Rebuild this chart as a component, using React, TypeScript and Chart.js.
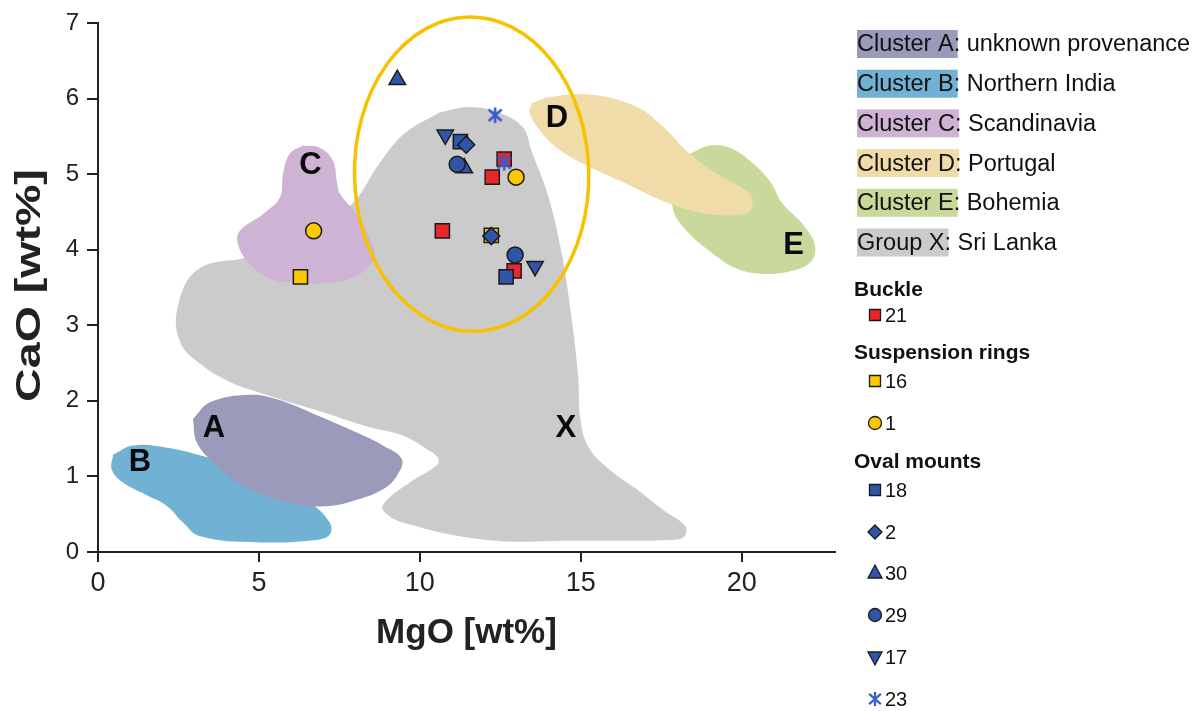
import React, { useEffect, useRef } from "react";
import { Chart, registerables } from "chart.js";

Chart.register(...registerables);

// ---------- data ----------
const xTickValues = [0, 5, 10, 15, 20];
const yTickValues = [0, 1, 2, 3, 4, 5, 6, 7];

const xTitle = "MgO [wt%]";
const yTitle = "CaO [wt%]";

const clusterNames = ["Cluster A", "Cluster B", "Cluster C", "Cluster D", "Cluster E", "Group X"];
const clusterPlaces = ["unknown provenance", "Northern India", "Scandinavia", "Portugal", "Bohemia", "Sri Lanka"];
const clusterColors = ["#9a9aba", "#71b2d4", "#cfb3d4", "#f0dca8", "#c9d99b", "#cbcbcb"];
const regionLetters = ["A", "B", "C", "D", "E", "X"];
const letterPositions = [
  [3.6, 1.63],
  [1.3, 1.18],
  [6.6, 5.12],
  [14.26, 5.74],
  [21.61, 4.05],
  [14.54, 1.64],
];

const regionA = [
  [2.95, 1.76], [3.48, 1.98], [4.72, 2.08], [5.56, 2.02], [6.8, 1.81], [8.04, 1.58], [8.85, 1.41],
  [9.44, 1.23], [9.29, 1.01], [8.85, 0.83], [8.04, 0.69], [7.2, 0.61], [6.18, 0.63], [5.12, 0.75],
  [4.32, 0.92], [3.57, 1.19], [3.07, 1.45],
];
const regionB = [
  [0.47, 1.29], [1.09, 1.41], [2.14, 1.38], [3.17, 1.28], [4.1, 1.15], [5.34, 0.88], [6.58, 0.65],
  [7.2, 0.39], [7.2, 0.23], [6.8, 0.16], [4.94, 0.13], [3.17, 0.21], [2.64, 0.39], [2.14, 0.61],
  [1.52, 0.75], [0.78, 0.92], [0.43, 1.09],
];
const regionC = [
  [6.37, 5.38], [6.89, 5.35], [7.3, 5.18], [7.42, 4.91], [7.52, 4.74], [8.04, 4.47], [8.45, 4.15],
  [8.6, 3.94], [8.35, 3.75], [7.83, 3.62], [7.11, 3.56], [6.18, 3.56], [5.34, 3.62], [4.72, 3.81],
  [4.35, 4.07], [4.41, 4.25], [5.12, 4.47], [5.65, 4.69], [5.75, 5.01], [5.96, 5.27],
];
const regionD = [
  [13.48, 5.94], [14.04, 6.02], [15.37, 6.05], [16.74, 5.89], [17.45, 5.67], [18.39, 5.27],
  [19.22, 5.01], [20.25, 4.74], [20.31, 4.55], [20.03, 4.47], [19.01, 4.47], [17.76, 4.61],
  [16.43, 4.87], [15.06, 5.14], [14.25, 5.35], [13.73, 5.58], [13.42, 5.81],
];
const regionE = [
  [18.39, 5.27], [19.01, 5.38], [19.63, 5.35], [20.25, 5.18], [20.87, 4.91], [21.27, 4.61],
  [21.89, 4.34], [22.27, 4.07], [22.17, 3.85], [21.58, 3.72], [20.65, 3.68], [19.84, 3.75],
  [19.01, 3.98], [18.29, 4.25], [17.86, 4.55], [17.98, 4.91],
];
const regionX = [
  [10.62, 5.82], [11.55, 5.89], [12.48, 5.81], [13.2, 5.62], [13.46, 5.32], [13.98, 4.72],
  [14.39, 3.99], [14.64, 3.33], [14.91, 2.38], [15.0, 1.72], [15.28, 1.36], [15.9, 1.09],
  [16.74, 0.83], [17.55, 0.56], [18.23, 0.35], [18.23, 0.21], [17.76, 0.16], [14.66, 0.15],
  [12.08, 0.16], [9.47, 0.39], [8.85, 0.56], [8.98, 0.69], [9.69, 0.92], [10.53, 1.15],
  [10.56, 1.25], [10.22, 1.36], [9.47, 1.54], [8.45, 1.65], [6.99, 1.85], [5.96, 1.98],
  [4.94, 2.12], [4.1, 2.25], [3.17, 2.49], [2.55, 2.78], [2.48, 3.25], [3.11, 3.74],
  [4.72, 3.91], [6.27, 4.18], [7.83, 4.58], [8.76, 5.15], [9.53, 5.54],
];

// Object groups (marker series)
const buckleSquares = [[12.62, 5.2], [12.25, 4.96], [10.7, 4.25], [12.93, 3.72]];
const ringSquares = [[6.29, 3.64], [12.22, 4.19]];
const ringCircles = [[6.7, 4.25], [12.99, 4.96]];
const ovalSquares = [[11.26, 5.43], [12.68, 3.64]];
const ovalDiamonds = [[11.44, 5.39], [12.22, 4.18]];
const ovalTriangles = [[9.3, 6.25], [11.38, 5.08]];
const ovalCircles = [[11.16, 5.13], [12.96, 3.93]];
const ovalDownTriangles = [[10.79, 5.52], [13.58, 3.78]];
const ovalAsterisks = [[12.34, 5.78], [12.62, 5.15]];

const groupTitles = ["Buckle", "Suspension rings", "Oval mounts"];
const sampleLabels = ["21", "16", "1", "18", "2", "30", "29", "17", "23"];

// Provenance field of the analysed objects (ellipse)
const ellipseCenter = [11.61, 5.0];
const ellipseRadii = [3.64, 2.08];

// ---------- styles ----------
const RED = "#e8262b";
const YELLOW = "#fcc800";
const BLUE = "#3155a6";
const EDGE = "#1b1b1b";
const FONT = "'Liberation Sans', Arial, sans-serif";

function makeAsterisk(size: number, color: string, lw: number) {
  const c = document.createElement("canvas");
  c.width = size;
  c.height = size;
  const g = c.getContext("2d")!;
  g.strokeStyle = color;
  g.lineWidth = lw;
  const m = size / 2;
  const r = size / 2 - lw / 2;
  g.beginPath();
  g.moveTo(m, m - r);
  g.lineTo(m, m + r);
  g.moveTo(m - r * 0.85, m - r * 0.75);
  g.lineTo(m + r * 0.85, m + r * 0.75);
  g.moveTo(m + r * 0.85, m - r * 0.75);
  g.lineTo(m - r * 0.85, m + r * 0.75);
  g.stroke();
  return c;
}

const toPts = (arr: number[][]) => arr.map(([x, y]) => ({ x, y }));
const closed = (arr: number[][]) => toPts([...arr, arr[0]]);

type MarkerDef = {
  data: number[][];
  style: string;
  color: string;
  radius: number;
  rotation?: number;
  group: number;
};

const markerDefs: MarkerDef[] = [
  { data: buckleSquares, style: "rect", color: RED, radius: 10, group: 0 },
  { data: ringSquares, style: "rect", color: YELLOW, radius: 10, group: 1 },
  { data: ringCircles, style: "circle", color: YELLOW, radius: 8, group: 1 },
  { data: ovalSquares, style: "rect", color: BLUE, radius: 10, group: 2 },
  { data: ovalDiamonds, style: "rectRot", color: BLUE, radius: 8.5, group: 2 },
  { data: ovalTriangles, style: "triangle", color: BLUE, radius: 9.5, group: 2 },
  { data: ovalCircles, style: "circle", color: BLUE, radius: 8, group: 2 },
  { data: ovalDownTriangles, style: "triangle", color: BLUE, radius: 9.5, rotation: 180, group: 2 },
  { data: ovalAsterisks, style: "asterisk", color: "#3a5cc8", radius: 9, group: 2 },
];

// legend layout (pixels)
const legendRowsY = [290, 315, 353, 381, 423, 462, 490, 532, 573, 615, 657, 699];

function drawLegendMarker(ctx: CanvasRenderingContext2D, def: MarkerDef, x: number, y: number) {
  ctx.save();
  ctx.fillStyle = def.color;
  ctx.strokeStyle = EDGE;
  ctx.lineWidth = 1.3;
  ctx.beginPath();
  if (def.style === "rect") {
    ctx.rect(x - 5.5, y - 5.5, 11, 11);
  } else if (def.style === "circle") {
    ctx.arc(x, y, 6.5, 0, Math.PI * 2);
  } else if (def.style === "rectRot") {
    ctx.moveTo(x - 7, y);
    ctx.lineTo(x, y - 7);
    ctx.lineTo(x + 7, y);
    ctx.lineTo(x, y + 7);
    ctx.closePath();
  } else if (def.style === "triangle") {
    const s = def.rotation ? -1 : 1;
    ctx.moveTo(x, y - 8 * s);
    ctx.lineTo(x + 7, y + 5 * s);
    ctx.lineTo(x - 7, y + 5 * s);
    ctx.closePath();
  }
  if (def.style === "asterisk") {
    const img = makeAsterisk(16, def.color, 2.2);
    ctx.drawImage(img, x - 8, y - 8);
  } else {
    ctx.fill();
    ctx.stroke();
  }
  ctx.restore();
}

const overlayPlugin = {
  id: "overlay",
  afterDatasetDraw(chart: any, args: any) {
    const ds = chart.data.datasets[args.index];
    if (ds.regionId !== "D") return;
    const { ctx, scales } = chart;
    const cx = scales.x.getPixelForValue(ellipseCenter[0]);
    const cy = scales.y.getPixelForValue(ellipseCenter[1]);
    const rx = Math.abs(scales.x.getPixelForValue(ellipseCenter[0] + ellipseRadii[0]) - cx);
    const ry = Math.abs(scales.y.getPixelForValue(ellipseCenter[1] + ellipseRadii[1]) - cy);
    ctx.save();
    ctx.strokeStyle = "#f6c200";
    ctx.lineWidth = 3.5;
    ctx.beginPath();
    ctx.ellipse(cx, cy, rx, ry, -0.02, 0, Math.PI * 2);
    ctx.stroke();
    ctx.restore();
  },
  afterDatasetsDraw(chart: any) {
    const { ctx, scales, chartArea } = chart;
    ctx.save();
    ctx.fillStyle = "#0a0a0a";
    ctx.font = `bold 31px ${FONT}`;
    ctx.textAlign = "center";
    ctx.textBaseline = "middle";
    regionLetters.forEach((t, i) => {
      const [x, y] = letterPositions[i];
      ctx.fillText(t, scales.x.getPixelForValue(x), scales.y.getPixelForValue(y));
    });
    ctx.restore();
    // y axis title (rotated, stretched along its length like the original)
    ctx.save();
    ctx.translate(30, (chartArea.top + chartArea.bottom) / 2 - 2);
    ctx.rotate(-Math.PI / 2);
    ctx.scale(1.33, 1);
    ctx.font = `bold 35px ${FONT}`;
    ctx.fillStyle = "#222";
    ctx.textAlign = "center";
    ctx.textBaseline = "middle";
    ctx.fillText(yTitle, 0, 0);
    ctx.restore();
  },
  afterDraw(chart: any) {
    const ctx: CanvasRenderingContext2D = chart.ctx;
    ctx.save();
    ctx.textBaseline = "middle";
    ctx.textAlign = "left";
    ctx.font = `23.5px ${FONT}`;
    clusterNames.forEach((name, i) => {
      const y = 44 + i * 39.7;
      const w = ctx.measureText(name).width;
      ctx.fillStyle = clusterColors[i];
      ctx.fillRect(857, y - 14, w + 4, 28);
      ctx.fillStyle = "#111";
      ctx.fillText(`${name}: ${clusterPlaces[i]}`, 857, y + 1);
    });
    // grouped sample legend
    let row = 0;
    groupTitles.forEach((title, gi) => {
      ctx.font = `bold 21px ${FONT}`;
      ctx.fillStyle = "#111";
      ctx.fillText(title, 854, legendRowsY[row]);
      row++;
      markerDefs.forEach((def, mi) => {
        if (def.group !== gi) return;
        const y = legendRowsY[row];
        drawLegendMarker(ctx, def, 875, y);
        ctx.font = `20px ${FONT}`;
        ctx.fillStyle = "#111";
        ctx.fillText(sampleLabels[mi], 885, y + 1);
        row++;
      });
    });
    ctx.restore();
  },
};

export default function App() {
  const ref = useRef<HTMLCanvasElement>(null);
  useEffect(() => {
    const asterisk = makeAsterisk(18, "#3a5cc8", 2.6);
    const regionOrder: [string, number[][], number][] = [
      ["X", regionX, 5],
      ["B", regionB, 1],
      ["A", regionA, 0],
      ["C", regionC, 2],
      ["E", regionE, 4],
      ["D", regionD, 3],
    ];
    const total = regionOrder.length + markerDefs.length;
    const datasets: any[] = [];
    regionOrder.forEach(([id, pts, ci], i) => {
      datasets.push({
        type: "line",
        regionId: id,
        label: clusterNames[ci],
        data: closed(pts),
        backgroundColor: clusterColors[ci],
        borderColor: "rgba(0,0,0,0)",
        borderWidth: 0,
        pointRadius: 0,
        fill: "shape",
        tension: 0.4,
        order: total - i,
      });
    });
    markerDefs.forEach((def, j) => {
      datasets.push({
        type: "scatter",
        label: sampleLabels[j],
        data: toPts(def.data),
        pointStyle: def.style === "asterisk" ? asterisk : def.style,
        pointRadius: def.radius,
        pointRotation: def.rotation || 0,
        backgroundColor: def.color,
        borderColor: EDGE,
        borderWidth: 1.5,
        order: total - regionOrder.length - j,
      });
    });

    const axisColor = "#222";
    const chart = new Chart(ref.current!, {
      type: "scatter",
      data: { datasets },
      plugins: [overlayPlugin as any],
      options: {
        animation: false,
        responsive: false,
        events: [],
        layout: { padding: { top: 23, right: 365, left: 0, bottom: 0 } },
        plugins: { legend: { display: false }, tooltip: { enabled: false } },
        scales: {
          x: {
            type: "linear",
            min: 0,
            max: 22.9,
            afterBuildTicks: (s: any) => {
              s.ticks = xTickValues.map((v) => ({ value: v }));
            },
            afterFit: (s: any) => {
              s.height = 159;
            },
            grid: { display: true, drawOnChartArea: false, drawTicks: true, tickLength: 10, color: axisColor, lineWidth: 2 },
            border: { display: true, color: axisColor, width: 2 },
            ticks: { font: { family: FONT, size: 27 }, color: axisColor, padding: 5, maxRotation: 0, autoSkip: false },
            title: {
              display: true,
              text: xTitle,
              color: axisColor,
              font: { family: FONT, size: 35, weight: "bold" },
              padding: { top: 0, bottom: 57 },
            },
          },
          y: {
            type: "linear",
            min: 0,
            max: 7,
            afterBuildTicks: (s: any) => {
              s.ticks = yTickValues.map((v) => ({ value: v }));
            },
            afterFit: (s: any) => {
              s.width = 98;
            },
            grid: { display: true, drawOnChartArea: false, drawTicks: true, tickLength: 11, color: axisColor, lineWidth: 2 },
            border: { display: true, color: axisColor, width: 2 },
            ticks: { font: { family: FONT, size: 24 }, color: axisColor, padding: 8 },
            title: { display: false, text: yTitle },
          },
        },
      } as any,
    });
    return () => chart.destroy();
  }, []);
  return (
    <div style={{ position: "absolute", left: 0, top: 0, width: 1200, height: 711, background: "#fff" }}>
      <canvas ref={ref} width={1200} height={711} style={{ display: "block", width: 1200, height: 711 }} />
    </div>
  );
}
